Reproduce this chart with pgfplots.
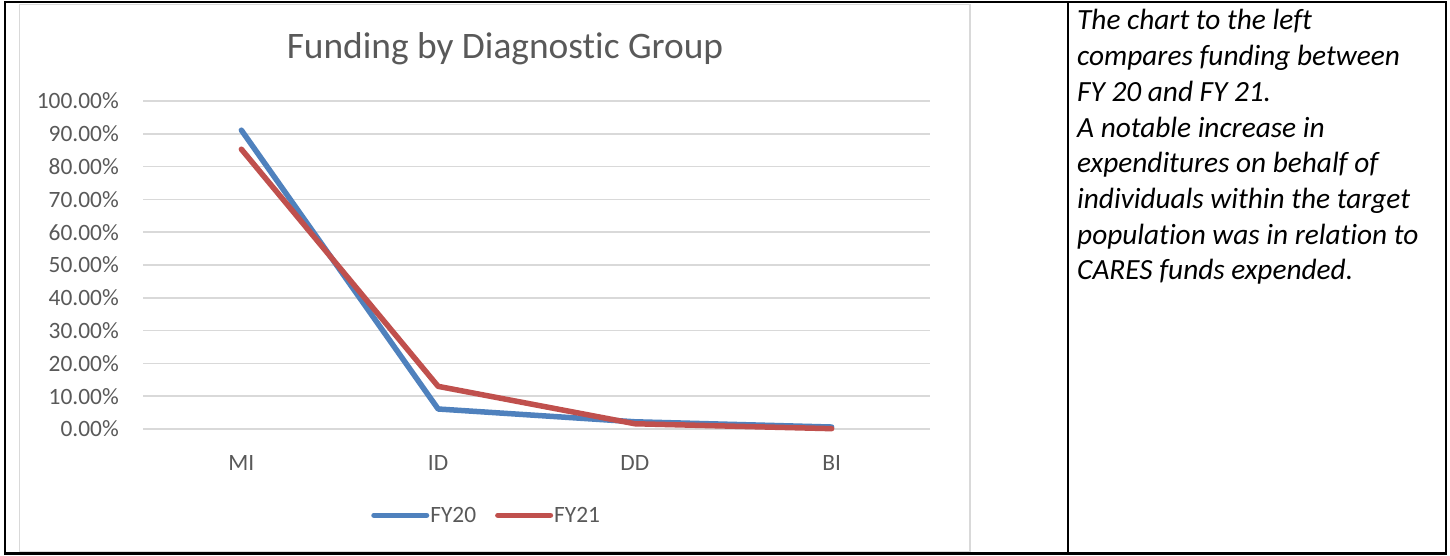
\documentclass[border=0pt]{standalone}
\usepackage{fontspec}
\setmainfont{Carlito}[Ligatures=NoCommon]
\usepackage{pgfplots}
\pgfplotsset{compat=1.18}
\definecolor{txtgray}{RGB}{89,89,89}
\definecolor{gridgray}{RGB}{217,217,217}
\definecolor{fyblue}{RGB}{79,129,189}
\definecolor{fyred}{RGB}{192,80,77}
\begin{document}
\begin{tikzpicture}[x=1pt,y=1pt]
\path[use as bounding box] (0,0) rectangle (1450,556);
\fill[white] (0,0) rectangle (1450,556);
\draw[gridgray, line width=1.5pt] (19.5,4) rectangle (970,551.5);
\begin{axis}[
  at={(143pt,127pt)}, anchor=south west,
  scale only axis, width=787pt, height=328pt,
  xmin=-0.5, xmax=3.5, ymin=0, ymax=100,
  clip=false,
  xtick={0,1,2,3}, xticklabels={MI,ID,DD,BI},
  ytick={0,10,20,30,40,50,60,70,80,90,100},
  yticklabels={0.00\%,10.00\%,20.00\%,30.00\%,40.00\%,50.00\%,60.00\%,70.00\%,80.00\%,90.00\%,100.00\%},
  axis line style={draw=none},
  major tick length=0pt,
  ymajorgrids, grid style={gridgray, line width=1.5pt},
  tick label style={font=\fontsize{23.4}{28}\selectfont, text=txtgray},
  xticklabel style={inner sep=0pt, anchor=north, yshift=-26pt},
  yticklabel style={inner sep=0pt, anchor=east, xshift=-24pt},
  legend columns=2,
  legend style={at={(0.436,-0.263)}, anchor=center, draw=none, fill=none,
    font=\fontsize{23.4}{28}\selectfont, text=txtgray,
    /tikz/every even column/.append style={column sep=18pt},
    nodes={inner sep=1pt}},
  legend cell align=left,
  legend image code/.code={\draw[#1, line width=5.5pt, line cap=round] (2.5pt,0pt) -- (55pt,0pt);},
]
\addplot[fyblue, line width=5.5pt, line cap=round, line join=round] coordinates {(0,91.1) (1,6.1) (2,2.2) (3,0.6)};
\addlegendentry{FY20}
\addplot[fyred, line width=5.5pt, line cap=round, line join=round] coordinates {(0,85.3) (1,13.0) (2,1.6) (3,0.1)};
\addlegendentry{FY21}
\end{axis}
\node[anchor=base, text=txtgray, font=\fontsize{37.4}{44}\selectfont, inner sep=0pt] at (505,497) {Funding by Diagnostic Group};
\foreach \t [count=\i from 0] in {The chart to the left,compares funding between,FY 20 and FY 21.,A notable increase in,expenditures on behalf of,individuals within the target,population was in relation to,CARES funds expended.}{
  \node[anchor=base west, inner sep=0pt, font=\fontsize{29.3}{35}\selectfont\itshape] at (1077,{556-30-35.7*\i}) {\t};
}
\draw[black, line width=2.5pt] (5,2.5) rectangle (1446,554);
\draw[black, line width=2pt] (1068,2.5) -- (1068,554);
\end{tikzpicture}
\end{document}
